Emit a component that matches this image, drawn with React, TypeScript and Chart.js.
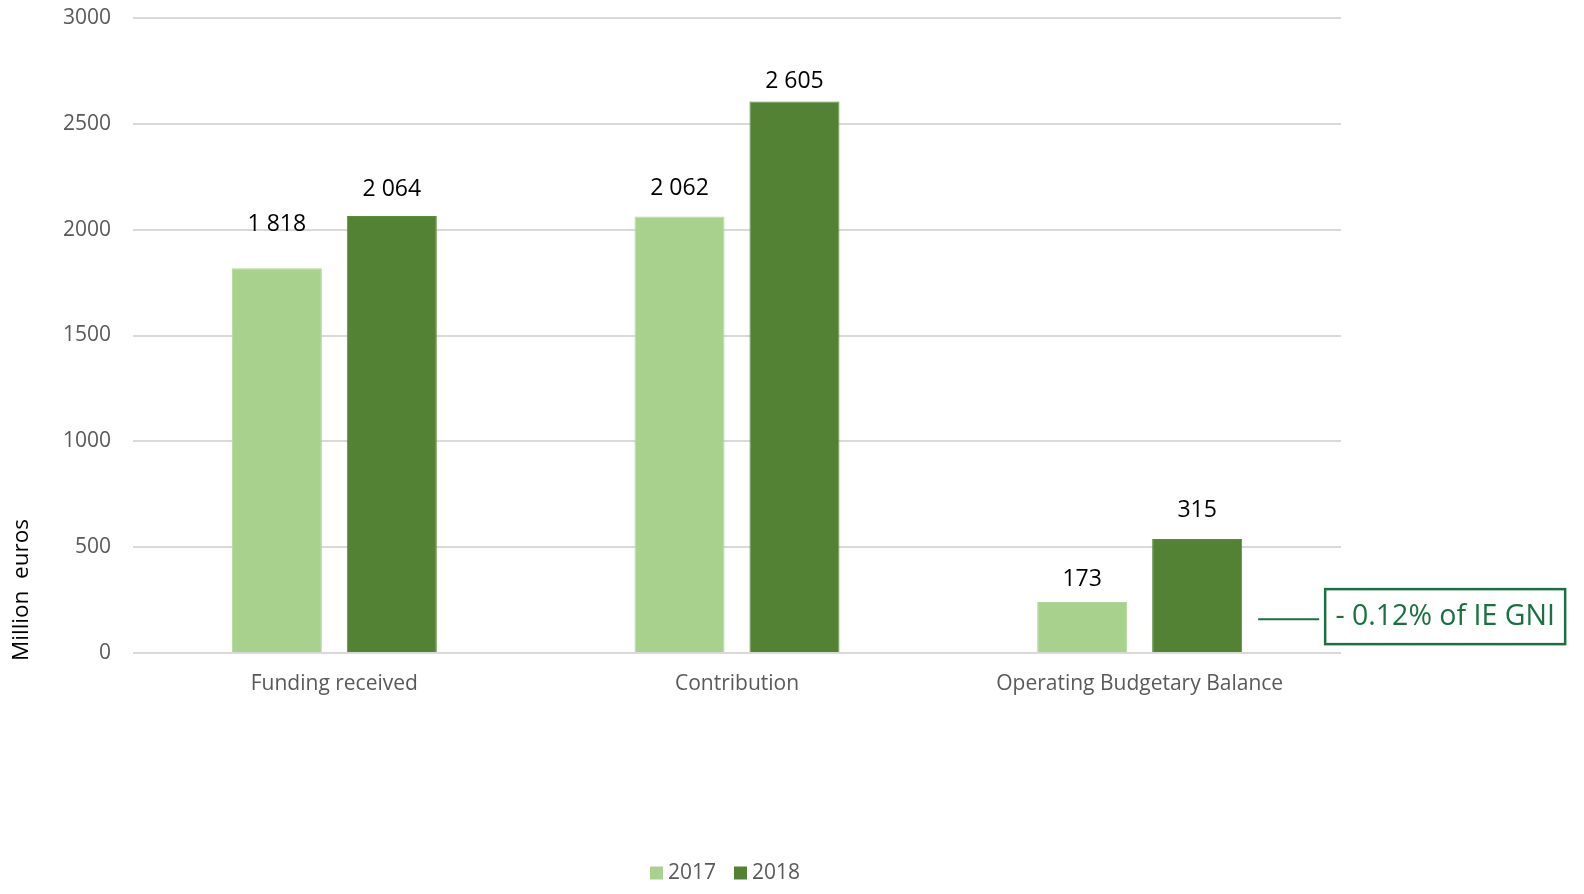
import React, { useEffect, useRef } from "react";
import { Chart, registerables } from "chart.js";

Chart.register(...registerables);

const categories = ["Funding received", "Contribution", "Operating Budgetary Balance"];
const seriesNames = ["2017", "2018"];
const values2017 = [1818, 2062, 241];
const values2018 = [2064, 2605, 539];
const labels2017 = ["1 818", "2 062", "173"];
const labels2018 = ["2 064", "2 605", "315"];
const yTicks = [0, 500, 1000, 1500, 2000, 2500, 3000];
const annotationText = "- 0.12% of IE GNI";
const annotationValue = 160;
const yAxisTitle = "Million  euros";

const FONT = "'Open Sans', 'Noto Sans', sans-serif";
const LIGHT = "#A9D18E";
const DARK = "#548235";
const ANN = "#1A7040";
const W = 1584;
const H = 894;

const valueLabelPlugin = {
  id: "valueLabels",
  afterDatasetsDraw(chart: any) {
    const ctx = chart.ctx;
    const all = [labels2017, labels2018];
    const lifts = [[44, 28, 23], [27, 20, 28]];
    ctx.save();
    ctx.font = `23px ${FONT}`;
    ctx.fillStyle = "#000000";
    ctx.textAlign = "center";
    ctx.textBaseline = "middle";
    chart.data.datasets.forEach((_ds: any, di: number) => {
      const meta = chart.getDatasetMeta(di);
      meta.data.forEach((bar: any, i: number) => {
        ctx.fillText(all[di][i], bar.x, bar.y - lifts[di][i]);
      });
    });
    ctx.restore();
  },
};

const extrasPlugin = {
  id: "extras",
  afterDraw(chart: any) {
    const ctx = chart.ctx;
    const y = chart.scales.y;
    // y axis title
    ctx.save();
    ctx.font = `22.5px ${FONT}`;
    ctx.fillStyle = "#000000";
    ctx.translate(22, 590);
    ctx.rotate(-Math.PI / 2);
    ctx.textAlign = "center";
    ctx.textBaseline = "middle";
    ctx.fillText(yAxisTitle, 0, 0);
    ctx.restore();

    // legend
    ctx.save();
    ctx.font = `21px ${FONT}`;
    ctx.textBaseline = "middle";
    ctx.textAlign = "left";
    const items = chart.data.datasets.map((d: any) => ({ t: d.label, c: d.backgroundColor }));
    const box = 13;
    const gap = 5;
    const between = 18;
    const widths = items.map((it: any) => box + gap + ctx.measureText(it.t).width);
    const total = widths.reduce((a: number, b: number) => a + b, 0) + between * (items.length - 1);
    let lx = (chart.chartArea.left + chart.chartArea.right) / 2 - total / 2 - 12;
    const ly = 873;
    items.forEach((it: any, i: number) => {
      ctx.fillStyle = it.c;
      ctx.fillRect(lx, ly - box / 2, box, box);
      ctx.fillStyle = "#595959";
      ctx.fillText(it.t, lx + box + gap, ly);
      lx += widths[i] + between;
    });
    ctx.restore();

    // annotation
    const meta = chart.getDatasetMeta(1);
    const bar: any = meta.data[2];
    const ay = y.getPixelForValue(annotationValue);
    const x0 = bar.x + bar.width / 2 + 16;
    ctx.save();
    ctx.strokeStyle = ANN;
    ctx.lineWidth = 2;
    ctx.beginPath();
    ctx.moveTo(x0, ay);
    ctx.lineTo(x0 + 61, ay);
    ctx.stroke();
    const bx = x0 + 67;
    ctx.lineWidth = 2.5;
    ctx.strokeRect(bx, ay - 30, 240, 55);
    ctx.font = `28.5px ${FONT}`;
    ctx.fillStyle = ANN;
    ctx.textAlign = "center";
    ctx.textBaseline = "middle";
    ctx.fillText(annotationText, bx + 120, ay - 2);
    ctx.restore();
  },
};

export default function App() {
  const ref = useRef<HTMLCanvasElement | null>(null);
  useEffect(() => {
    if (!ref.current) return;
    document.documentElement.style.overflow = "hidden";
    document.body.style.margin = "0";
    document.body.style.overflow = "hidden";
    const canvas = ref.current;
    const chart = new Chart(canvas, {
      type: "bar",
      data: {
        labels: categories,
        datasets: [
          {
            label: seriesNames[0],
            data: values2017,
            backgroundColor: LIGHT,
            borderColor: "#B4D89C",
            borderWidth: 1,
            barPercentage: 0.783,
            categoryPercentage: 0.571,
          },
          {
            label: seriesNames[1],
            data: values2018,
            backgroundColor: DARK,
            borderColor: "#5E8C3E",
            borderWidth: 1,
            barPercentage: 0.783,
            categoryPercentage: 0.571,
          },
        ],
      },
      options: {
        animation: false,
        responsive: false,
        devicePixelRatio: 1,
        layout: { padding: { left: 0, right: 243, top: 18, bottom: 0 } },
        plugins: {
          tooltip: { enabled: false },
          legend: { display: false },
        },
        scales: {
          x: {
            grid: { display: false, drawTicks: false },
            border: { display: false },
            ticks: { color: "#595959", font: { family: FONT, size: 21 }, padding: 18 },
            afterFit(scale: any) {
              scale.height = 241;
              scale.paddingLeft = 0;
              scale.paddingRight = 0;
            },
          },
          y: {
            min: 0,
            max: 3000,
            afterBuildTicks(scale: any) {
              scale.ticks = yTicks.map((v) => ({ value: v }));
            },
            grid: { color: "#D9D9D9", lineWidth: 2, drawTicks: false },
            border: { display: false },
            ticks: {
              color: "#595959",
              font: { family: FONT, size: 21 },
              padding: 22,
              callback: (v: any) => String(v),
            },
            afterFit(scale: any) {
              scale.width = 133;
              scale.paddingTop = 0;
              scale.paddingBottom = 0;
            },
          },
        },
      },
      plugins: [valueLabelPlugin, extrasPlugin],
    } as any);
    canvas.style.width = "100vw";
    canvas.style.height = "100vh";
    return () => chart.destroy();
  }, []);
  return (
    <div style={{ position: "fixed", left: 0, top: 0, width: "100vw", height: "100vh", overflow: "hidden" }}>
      <canvas ref={ref} width={W} height={H} style={{ display: "block", width: "100vw", height: "100vh" }} />
    </div>
  );
}
